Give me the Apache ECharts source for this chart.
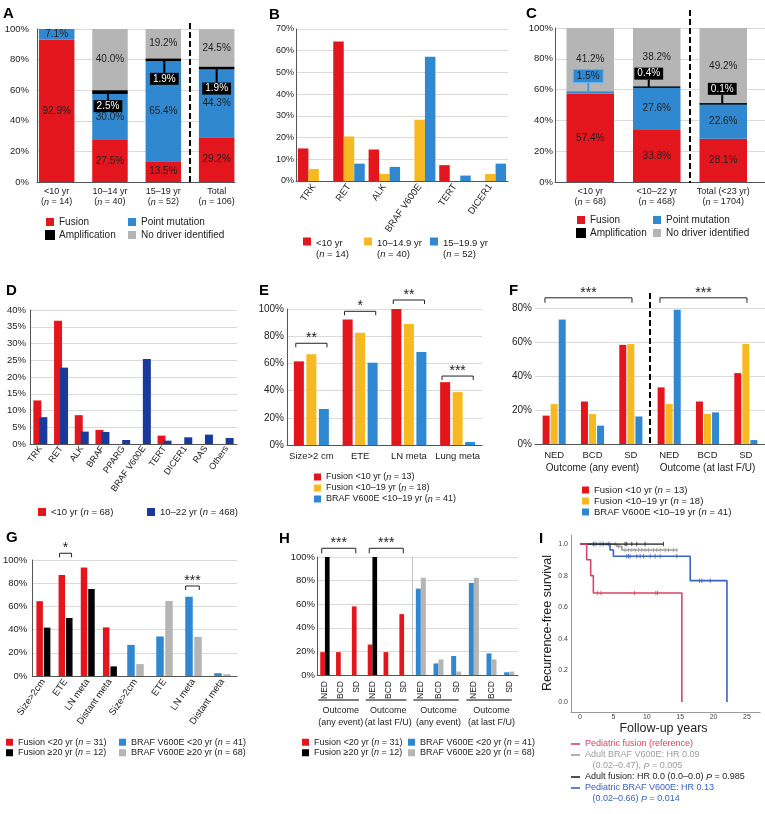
<!DOCTYPE html>
<html><head><meta charset="utf-8">
<script src="https://cdn.jsdelivr.net/npm/echarts@6/dist/echarts.min.js"></script>
<style>html,body{margin:0;padding:0;background:#fff}#main{width:765px;height:814px}</style>
</head><body><div id="main"></div>
<script>
// ================= DATA =================
// Panel A
const aCategories = ['<10 yr\n(n = 14)', '10–14 yr\n(n = 40)', '15–19 yr\n(n = 52)', 'Total\n(n = 106)'];
const aFusion = [92.9, 27.5, 13.5, 29.2];
const aPoint = [7.1, 30.0, 65.4, 44.3];
const aAmp = [0, 2.5, 1.9, 1.9];
const aNone = [0, 40.0, 19.2, 24.5];
// Panel B
const bCategories = ['TRK', 'RET', 'ALK', 'BRAF V600E', 'TERT', 'DICER1'];
const bUnder10 = [15.0, 64.3, 14.5, 0, 7.3, 0];
const b10to15 = [5.5, 20.5, 3.2, 28.2, 0, 3.2];
const b15to20 = [0, 8.0, 6.5, 57.2, 2.5, 8.0];
// Panel C
const cCategories = ['<10 yr\n(n = 68)', '<10–22 yr\n(n = 468)', 'Total (<23 yr)\n(n = 1704)'];
const cFusion = [57.4, 33.8, 28.1];
const cPoint = [1.5, 27.6, 22.6];
const cAmp = [0, 0.4, 0.1];
const cNone = [41.2, 38.2, 49.2];
// Panel D
const dCategories = ['TRK', 'RET', 'ALK', 'BRAF', 'PPARG', 'BRAF V600E', 'TERT', 'DICER1', 'RAS', 'Others'];
const dUnder10 = [13.0, 36.8, 8.6, 4.2, 0, 0, 2.5, 0, 0, 0];
const d10to22 = [8.0, 22.8, 3.7, 3.6, 1.2, 25.4, 1.0, 2.0, 2.8, 1.8];
// Panel E
const eCategories = ['Size>2 cm', 'ETE', 'LN meta', 'Lung meta'];
const eFusionU10 = [61.5, 92.3, 100, 46.2];
const eFusion10to19 = [66.7, 82.5, 88.9, 38.9];
const eBraf = [26.5, 60.5, 68.3, 2.2];
const eSigFrom = [0, 1, 2, 3];
const eSigTo = [0, 1, 2, 3];
const eSigLevel = [74.8, 98.3, 106.6, 50.7];
const eSigStars = ['**', '*', '**', '***'];
// Panel F
const fCategories = ['NED', 'BCD', 'SD', 'NED', 'BCD', 'SD'];
const fGroups = ['Outcome (any event)', 'Outcome (at last F/U)'];
const fFusionU10 = [16.7, 25.0, 58.3, 33.3, 25.0, 41.7];
const fFusion10to19 = [23.5, 17.6, 58.8, 23.5, 17.6, 58.8];
const fBraf = [73.2, 10.8, 16.2, 78.9, 18.6, 2.3];
const fSigFrom = [0, 3];
const fSigTo = [2, 5];
const fSigLevel = [86, 86];
const fSigStars = ['***', '***'];
// Panel G
const gCategories = ['Size>2cm', 'ETE', 'LN meta', 'Distant meta'];
const gFusionU20 = [64.5, 87.1, 93.5, 41.9];
const gFusionO20 = [41.7, 50.0, 75.0, 8.3];
const gBrafU20 = [26.8, 34.1, 68.3, 2.4];
const gBrafO20 = [10.3, 64.7, 33.8, 1.5];
const gSigFusionCat = [1], gSigFusionLevel = [105.8], gSigFusionStars = ['*'];
const gSigBrafCat = [2], gSigBrafLevel = [77.6], gSigBrafStars = ['***'];
// Panel H
const hCategories = ['NED', 'BCD', 'SD', 'NED', 'BCD', 'SD'];
const hGroups = ['Outcome\n(any event)', 'Outcome\n(at last F/U)'];
const hFusionU20 = [19.4, 19.4, 58.1, 25.8, 19.4, 51.6];
const hFusionO20 = [100, 0, 0, 100, 0, 0];
const hBrafU20 = [73.2, 9.8, 16.1, 78.0, 18.3, 2.3];
const hBrafO20 = [82.4, 13.2, 2.9, 82.4, 13.2, 2.9];
const hSigFrom = [0, 3], hSigTo = [2, 5], hSigLevel = [107.4, 107.4], hSigStars = ['***', '***'];
const hGroupFrom = [0, 3], hGroupTo = [2, 5];
// Panel I (Kaplan–Meier)
const kmPedFusionT = [0, 1.0, 1.6, 2.0, 15.25];
const kmPedFusionS = [1, 0.9, 0.8, 0.69, 0];
const kmPedFusionCens = [2.65, 3.15, 8.15, 11.35, 11.6];
const kmAdultBrafT = [0, 5.5, 6.25, 14.6];
const kmAdultBrafS = [1, 0.985, 0.962, 0.962];
const kmAdultBrafCens = [2.0, 2.5, 3.25, 4.0, 4.5, 5.25, 5.75, 6.75, 7.25, 7.75, 8.25, 8.75, 9.25, 9.75, 10.25, 11.0, 11.5, 12.0, 12.75, 13.25, 14.0, 14.5];
const kmAdultFusionT = [0, 12.5];
const kmAdultFusionS = [1, 1];
const kmAdultFusionCens = [6.75, 7.0, 7.75, 8.5, 9.75, 12.5];
const kmPedBrafT = [0, 4.5, 5.0, 16.5, 22.0];
const kmPedBrafS = [1, 0.962, 0.922, 0.768, 0];
const kmPedBrafCens = [2.0, 2.25, 3.0, 3.5, 4.25, 7.0, 7.25, 7.5, 8.5, 9.0, 9.5, 10.5, 11.25, 12.0, 14.5, 17.9, 18.25, 19.5];
const kmNames = ['Pediatric fusion (reference)', 'Adult BRAF V600E: HR 0.09', '   (0.02–0.47), P = 0.005',
  'Adult fusion: HR 0.0 (0.0–0.0) P = 0.985', 'Pediatric BRAF V600E: HR 0.13', '   (0.02–0.66) P = 0.014'];

// ================= STYLE / HELPERS =================
const FONT = "'Liberation Sans', Arial, Helvetica, sans-serif";
const RED = '#e3161e', BLUE = '#3089d0', YEL = '#f6b921', GRY = '#b5b5b5', NAVY = '#1a3a9a', BLK = '#000';
const KM_RED = '#d8436a', KM_GRY = '#9c9c9c', KM_BLK = '#222', KM_BLU = '#3b62bd';
const TXT = '#222', AX = '#555', GRIDC = '#dadada';
const grid = [], xAxis = [], yAxis = [], series = [], legend = [], title = [];

function merge(t, s) {
  for (const k in s) {
    const v = s[k];
    if (v && typeof v === 'object' && !Array.isArray(v) && t[k] && typeof t[k] === 'object' && !Array.isArray(t[k])) merge(t[k], v);
    else t[k] = v;
  }
  return t;
}
function addGrid(left, top, width, height) { grid.push({ left, top, width, height }); return grid.length - 1; }
function addX(o) { xAxis.push(o); return xAxis.length - 1; }
function addY(o) { yAxis.push(o); return yAxis.length - 1; }
const italRich = (fs, color) => ({ i: { fontStyle: 'italic', fontFamily: FONT, fontSize: fs, color: color || TXT } });
const nItal = s => String(s).replace(/\(n =/g, '({i|n} =');

function pctY(g, max, interval, o) {
  return addY(merge({
    type: 'value', gridIndex: g, min: 0, max, interval,
    axisLine: { show: true, lineStyle: { color: AX, width: 1 } }, axisTick: { show: false },
    axisLabel: { formatter: '{value}%', fontFamily: FONT, fontSize: 9.5, color: TXT, margin: 3 },
    splitLine: { show: true, lineStyle: { color: GRIDC, width: 1 } }
  }, o || {}));
}
function plainY(g, max, interval, o) {
  return addY(merge({
    type: 'value', gridIndex: g, min: 0, max, interval,
    axisLine: { show: false }, axisTick: { show: false }, axisLabel: { show: false },
    splitLine: { show: true, lineStyle: { color: GRIDC, width: 1 } }
  }, o || {}));
}
function hiddenY(g, max) { return addY({ type: 'value', gridIndex: g, min: 0, max, show: false }); }
function catX(g, data, o) {
  return addX(merge({
    type: 'category', gridIndex: g, data,
    axisLine: { show: true, lineStyle: { color: AX, width: 1 } }, axisTick: { show: false },
    axisLabel: { fontFamily: FONT, fontSize: 9.5, color: TXT, interval: 0, margin: 4 }
  }, o || {}));
}
function frameX(g, color) {
  return addX({ type: 'value', gridIndex: g, min: 0, max: 1, axisLine: { show: true, lineStyle: { color: color || AX } },
    axisLabel: { show: false }, axisTick: { show: false }, splitLine: { show: false } });
}
function bar(name, data, color, xi, yi, o) {
  series.push(merge({ type: 'bar', name, data, xAxisIndex: xi, yAxisIndex: yi, itemStyle: { color }, emphasis: { disabled: true } }, o || {}));
}
function bracketSeries(xi, yi, from, to, level, stars, fl, fr, tick, fs) {
  series.push({
    type: 'custom', xAxisIndex: xi, yAxisIndex: yi, clip: false, silent: true, z: 6,
    data: level.map((v, i) => [from[i], to[i], v]), encode: { x: [0, 1], y: 2 },
    renderItem(params, api) {
      const band = api.size([1, 0])[0];
      const a = api.coord([api.value(0), api.value(2)]);
      const b = api.coord([api.value(1), api.value(2)]);
      const x1 = a[0] - band * fl, x2 = b[0] + band * fr, y = a[1];
      return { type: 'group', children: [
        { type: 'polyline', shape: { points: [[x1, y + tick], [x1, y], [x2, y], [x2, y + tick]] }, style: { stroke: '#222', lineWidth: 1, fill: null } },
        { type: 'text', style: { text: stars[params.dataIndex], x: (x1 + x2) / 2, y: y + 2, align: 'center', verticalAlign: 'bottom', fontSize: fs, fontFamily: FONT, fill: '#222' } }
      ] };
    }
  });
}
function dividerSeries(xi, yi, afterIdx, topVal, extTop, extBot) {
  series.push({
    type: 'custom', xAxisIndex: xi, yAxisIndex: yi, clip: false, silent: true, z: 6,
    data: [[afterIdx, 0]], encode: { x: 0, y: 1 },
    renderItem(params, api) {
      const band = api.size([1, 0])[0];
      const p0 = api.coord([api.value(0), 0]);
      const pt = api.coord([api.value(0), topVal]);
      const x = p0[0] + band / 2;
      return { type: 'line', shape: { x1: x, y1: pt[1] - extTop, x2: x, y2: p0[1] + extBot }, style: { stroke: '#000', lineWidth: 2, lineDash: [6, 3] } };
    }
  });
}
function underlineSeries(xi, yi, from, to, drop, fl, fr) {
  series.push({
    type: 'custom', xAxisIndex: xi, yAxisIndex: yi, clip: false, silent: true, z: 6,
    data: from.map((v, i) => [v, to[i], 0]), encode: { x: [0, 1], y: 2 },
    renderItem(params, api) {
      const band = api.size([1, 0])[0];
      const a = api.coord([api.value(0), 0]), b = api.coord([api.value(1), 0]);
      return { type: 'line', shape: { x1: a[0] - band * fl, y1: a[1] + drop, x2: b[0] + band * fr, y2: a[1] + drop }, style: { stroke: '#000', lineWidth: 1.2 } };
    }
  });
}
function legendAt(names, left, top, o) {
  const fs = (o && o.fs) || 10;
  const lh = (o && o.lh) || 12;
  const L = {
    data: names, left, top, orient: 'vertical', padding: 0, itemGap: 0, itemWidth: 8, itemHeight: 8,
    icon: 'rect', selectedMode: false, formatter: nItal,
    textStyle: { fontFamily: FONT, fontSize: fs, color: TXT, lineHeight: lh, rich: italRich(fs) }
  };
  if (o) { const c = Object.assign({}, o); delete c.fs; delete c.lh; merge(L, c); }
  legend.push(L);
}
const pctLabel = { show: true, position: 'inside', formatter: p => Number(p.value).toFixed(1) + '%', fontFamily: FONT, fontSize: 10, color: TXT };
const segData = (arr, extra) => arr.map((v, i) => v > 0 ? merge({ value: v }, extra ? extra(i) : {}) : '-');

// ================= TITLES =================
[['A', 3, 6], ['B', 269, 7], ['C', 526, 6], ['D', 6, 283], ['E', 259, 283], ['F', 509, 283], ['G', 6, 530], ['H', 279, 531], ['I', 539, 531]]
  .forEach(t => title.push({ text: t[0], left: t[1], top: t[2], padding: 0, textStyle: { fontFamily: FONT, fontSize: 15, fontWeight: 'bold', color: '#000' } }));

// ================= PANEL A =================
const gAf = addGrid(37, 29, 198, 153);
frameX(gAf); pctY(gAf, 100, 20, { axisLabel: { margin: 8 } });
const gA = addGrid(30, 29, 213.3, 153);
const xA = catX(gA, aCategories, { axisLine: { show: false }, axisLabel: { formatter: nItal, rich: italRich(9), fontSize: 9, lineHeight: 10, margin: 5 } });
const yA = hiddenY(gA, 100);
const aAmpOff = [[0, 0], [-2, 14], [1, 19], [0, 20.5]];
bar('Fusion', segData(aFusion), RED, xA, yA, { stack: 'A', barWidth: 35.5, label: pctLabel });
bar('Point mutation', segData(aPoint), BLUE, xA, yA, { stack: 'A', barWidth: 35.5, label: pctLabel });
bar('Amplification', segData(aAmp, () => ({ labelLine: { show: true } })), BLK, xA, yA, {
  stack: 'A', barWidth: 35.5, itemStyle: { borderColor: '#000', borderWidth: 2 },
  label: { show: true, position: 'inside', formatter: p => p.value.toFixed(1) + '%', backgroundColor: '#000', color: '#fff', padding: [1, 3], fontFamily: FONT, fontSize: 10 },
  labelLine: { show: true, lineStyle: { color: '#000', width: 2 } },
  labelLayout: p => ({ dx: aAmpOff[p.dataIndex][0], dy: aAmpOff[p.dataIndex][1] }), z: 4
});
bar('No driver identified', segData(aNone), GRY, xA, yA, { stack: 'A', barWidth: 35.5, label: pctLabel });
dividerSeries(xA, yA, 2, 100, 6, 1);
legendAt(['Fusion', 'Amplification'], 45, 216, { itemGap: 1 });
legendAt(['Point mutation', 'No driver identified'], 128, 216, { itemGap: 1 });

// ================= PANEL B =================
const gB = addGrid(296, 29, 212, 152);
const xB = catX(gB, bCategories, { axisLabel: { rotate: 55, fontSize: 9.5, margin: 4 } });
const yB = pctY(gB, 70, 10, { axisLabel: { fontSize: 9, margin: 2 } });
const bNames = ['<10 yr\n(n = 14)', '10–14.9 yr\n(n = 40)', '15–19.9 yr\n(n = 52)'];
bar(bNames[0], bUnder10, RED, xB, yB, { barWidth: 10.5, barGap: '0%' });
bar(bNames[1], b10to15, YEL, xB, yB, { barWidth: 10.5, barGap: '0%' });
bar(bNames[2], b15to20, BLUE, xB, yB, { barWidth: 10.5, barGap: '0%' });
const twoLineIcon = 'path://M0,0H8V8H0ZM0,22H0.001V22.001H0Z';
[[0, 303], [1, 364], [2, 430]].forEach(([i, l]) =>
  legendAt([bNames[i]], l, 237.5, { icon: twoLineIcon, itemWidth: 8, itemHeight: 22, fs: 9.5, lh: 11 }));

// ================= PANEL C =================
const gCf = addGrid(555, 28, 210, 154);
frameX(gCf); pctY(gCf, 100, 20, { axisLabel: { margin: 2 } });
const gC = addGrid(557, 28, 199.5, 154);
const xC = catX(gC, cCategories, { axisLine: { show: false }, axisLabel: { formatter: nItal, rich: italRich(9), fontSize: 9, lineHeight: 10, margin: 5 } });
const yC = hiddenY(gC, 100);
const cAmpOff = [[0, 0], [-8, -13.5], [-1, -15]];
bar('Fusion', segData(cFusion), RED, xC, yC, { stack: 'C', barWidth: 47.5, label: pctLabel });
bar('Point mutation', segData(cPoint, i => i === 0 ? {
  label: { backgroundColor: BLUE, borderColor: '#5fb3ee', borderWidth: 1, padding: [1, 3] }, labelLine: { show: true }
} : {}), BLUE, xC, yC, {
  stack: 'C', barWidth: 47.5, label: pctLabel,
  labelLine: { show: false, lineStyle: { color: '#39a0e8', width: 2 } },
  labelLayout: p => p.dataIndex === 0 ? { dx: -2, dy: -16.5 } : {}, z: 4
});
bar('Amplification', segData(cAmp, () => ({ labelLine: { show: true } })), BLK, xC, yC, {
  stack: 'C', barWidth: 47.5, itemStyle: { borderColor: '#000', borderWidth: 1 },
  label: { show: true, position: 'inside', formatter: p => p.value.toFixed(1) + '%', backgroundColor: '#000', color: '#fff', padding: [1, 3], fontFamily: FONT, fontSize: 10 },
  labelLine: { show: true, lineStyle: { color: '#000', width: 2 } },
  labelLayout: p => ({ dx: cAmpOff[p.dataIndex][0], dy: cAmpOff[p.dataIndex][1] }), z: 4
});
bar('No driver identified', segData(cNone), GRY, xC, yC, { stack: 'C', barWidth: 47.5, label: pctLabel });
dividerSeries(xC, yC, 1, 100, 18, 1);
legendAt(['Fusion', 'Amplification'], 576, 214, { itemGap: 1 });
legendAt(['Point mutation', 'No driver identified'], 653, 214, { itemGap: 1 });

// ================= PANEL D =================
const gD = addGrid(30, 310, 207, 134);
const xD = catX(gD, dCategories, { axisLabel: { rotate: 55, fontSize: 9, margin: 3 } });
const yD = pctY(gD, 40, 5, { axisLabel: { margin: 4 } });
bar('<10 yr (n = 68)', dUnder10, RED, xD, yD, { barWidth: 8, barGap: '-25%' });
bar('10–22 yr (n = 468)', d10to22, NAVY, xD, yD, { barWidth: 8, barGap: '-25%' });
legendAt(['<10 yr (n = 68)'], 38, 506, { fs: 9.5 });
legendAt(['10–22 yr (n = 468)'], 147, 506, { fs: 9.5 });

// ================= PANEL E =================
const gE = addGrid(287, 309, 195, 136);
const xE = catX(gE, eCategories, { axisLabel: { fontSize: 9.5, margin: 6 } });
const yE = pctY(gE, 100, 20, { axisLabel: { fontSize: 10 } });
const eNames = ['Fusion <10 yr (n = 13)', 'Fusion <10–19 yr (n = 18)', 'BRAF V600E <10–19 yr (n = 41)'];
bar(eNames[0], eFusionU10, RED, xE, yE, { barWidth: 10, barGap: '25%' });
bar(eNames[1], eFusion10to19, YEL, xE, yE, { barWidth: 10, barGap: '25%' });
bar(eNames[2], eBraf, BLUE, xE, yE, { barWidth: 10, barGap: '25%' });
bracketSeries(xE, yE, eSigFrom, eSigTo, eSigLevel, eSigStars, 0.32, 0.32, 4, 14);
legendAt(eNames, 314, 471.5, { fs: 9, lh: 11, itemWidth: 7, itemHeight: 7 });

// ================= PANEL F =================
const gF = addGrid(535, 308, 230, 136);
const xF = catX(gF, fCategories, { axisLabel: { fontSize: 9.5, margin: 6 } });
addX({ type: 'category', gridIndex: gF, data: fGroups, position: 'bottom', offset: 17, axisLine: { show: false }, axisTick: { show: false },
  axisLabel: { fontFamily: FONT, fontSize: 10, color: TXT, margin: 2, interval: 0 } });
const yF = pctY(gF, 80, 20, { axisLine: { show: false }, axisLabel: { fontSize: 10 } });
bar(eNames[0], fFusionU10, RED, xF, yF, { barWidth: 7, barGap: '15%' });
bar(eNames[1], fFusion10to19, YEL, xF, yF, { barWidth: 7, barGap: '15%' });
bar(eNames[2], fBraf, BLUE, xF, yF, { barWidth: 7, barGap: '15%' });
dividerSeries(xF, yF, 2, 80, 15, 0);
bracketSeries(xF, yF, fSigFrom, fSigTo, fSigLevel, fSigStars, 0.24, 0.03, 5, 14);
legendAt(eNames, 582, 484.5, { fs: 9.5, lh: 11, itemWidth: 7, itemHeight: 7 });

// ================= PANEL G =================
const gNames = ['Fusion <20 yr (n = 31)', 'Fusion ≥20 yr (n = 12)', 'BRAF V600E <20 yr (n = 41)', 'BRAF V600E ≥20 yr (n = 68)'];
const gG1 = addGrid(31, 560, 90, 116);
const xG1 = catX(gG1, gCategories, { axisLabel: { rotate: 55, fontSize: 9.5, margin: 4 } });
const yG1 = pctY(gG1, 100, 20, { axisLabel: { margin: 5 } });
const gG2 = addGrid(121, 560, 116, 116);
const xG2 = catX(gG2, gCategories, { axisLabel: { rotate: 55, fontSize: 9.5, margin: 4 } });
const yG2 = plainY(gG2, 100, 20);
bar(gNames[0], gFusionU20, RED, xG1, yG1, { barWidth: 6.5, barGap: '15%' });
bar(gNames[1], gFusionO20, BLK, xG1, yG1, { barWidth: 6.5, barGap: '15%' });
bar(gNames[2], gBrafU20, BLUE, xG2, yG2, { barWidth: 7.5, barGap: '20%' });
bar(gNames[3], gBrafO20, GRY, xG2, yG2, { barWidth: 7.5, barGap: '20%' });
bracketSeries(xG1, yG1, gSigFusionCat, gSigFusionCat, gSigFusionLevel, gSigFusionStars, 0.27, 0.27, 4, 14);
bracketSeries(xG2, yG2, gSigBrafCat, gSigBrafCat, gSigBrafLevel, gSigBrafStars, 0.27, 0.2, 4, 14);
legendAt(gNames.slice(0, 2), 6, 737, { fs: 9, lh: 10.5, itemWidth: 7, itemHeight: 7 });
legendAt(gNames.slice(2), 119, 737, { fs: 9, lh: 10.5, itemWidth: 7, itemHeight: 7 });

// ================= PANEL H =================
const gH1 = addGrid(317, 557, 95, 118);
const xH1 = catX(gH1, hCategories, { axisLabel: { rotate: 90, fontSize: 8.5, margin: 6 } });
addX({ type: 'category', gridIndex: gH1, data: hGroups, position: 'bottom', offset: 28, axisLine: { show: false }, axisTick: { show: false },
  axisLabel: { fontFamily: FONT, fontSize: 9, color: TXT, margin: 2, lineHeight: 12, interval: 0 } });
const yH1 = pctY(gH1, 100, 20, { axisLabel: { margin: 2 } });
const gH2 = addGrid(412, 557, 106, 118);
const xH2 = catX(gH2, hCategories, { axisLabel: { rotate: 90, fontSize: 8.5, margin: 6 } });
addX({ type: 'category', gridIndex: gH2, data: hGroups, position: 'bottom', offset: 28, axisLine: { show: false }, axisTick: { show: false },
  axisLabel: { fontFamily: FONT, fontSize: 9, color: TXT, margin: 2, lineHeight: 12, interval: 0 } });
const yH2 = plainY(gH2, 100, 20, { axisLine: { show: true, lineStyle: { color: '#c4c4c4' } } });
bar(gNames[0], hFusionU20, RED, xH1, yH1, { barWidth: 4.7, barGap: '0%' });
bar(gNames[1], hFusionO20, BLK, xH1, yH1, { barWidth: 4.7, barGap: '0%' });
bar(gNames[2], hBrafU20, BLUE, xH2, yH2, { barWidth: 5, barGap: '0%' });
bar(gNames[3], hBrafO20, GRY, xH2, yH2, { barWidth: 5, barGap: '0%' });
bracketSeries(xH1, yH1, hSigFrom, hSigTo, hSigLevel, hSigStars, 0.2, -0.05, 5, 14);
underlineSeries(xH1, yH1, hGroupFrom, hGroupTo, 25, 0.42, 0.15);
underlineSeries(xH2, yH2, hGroupFrom, hGroupTo, 25, 0.42, 0.15);
legendAt(gNames.slice(0, 2), 302, 737, { fs: 9, lh: 10.5, itemWidth: 7, itemHeight: 7 });
legendAt(gNames.slice(2), 408, 737, { fs: 9, lh: 10.5, itemWidth: 7, itemHeight: 7 });

// ================= PANEL I =================
const gIf = addGrid(571, 535, 189, 177);
frameX(gIf, '#9a9a9a');
addY({ type: 'value', gridIndex: gIf, min: 0, max: 1, axisLine: { show: true, lineStyle: { color: '#9a9a9a' } }, axisLabel: { show: false }, axisTick: { show: false }, splitLine: { show: false } });
const gI = addGrid(580, 544, 167, 158);
const xI = addX({ type: 'value', gridIndex: gI, min: 0, max: 25, interval: 5, axisLine: { show: false }, axisTick: { show: false }, splitLine: { show: false },
  axisLabel: { fontFamily: FONT, fontSize: 7, color: '#444', margin: 12 },
  name: 'Follow-up years', nameLocation: 'middle', nameGap: 19, nameTextStyle: { fontFamily: FONT, fontSize: 12.5, color: TXT } });
const yI = addY({ type: 'value', gridIndex: gI, min: 0, max: 1, interval: 0.2, axisLine: { show: false }, axisTick: { show: false }, splitLine: { show: false },
  axisLabel: { fontFamily: FONT, fontSize: 7, color: '#444', margin: 12, formatter: v => v.toFixed(1) },
  name: 'Recurrence-free survival', nameLocation: 'middle', nameGap: 23, nameTextStyle: { fontFamily: FONT, fontSize: 12.5, color: TXT } });
function survAt(T, S, t) { let s = S[0]; for (let i = 0; i < T.length; i++) if (T[i] <= t) s = S[i]; return s; }
function km(name, T, S, C, color, z) {
  series.push({ type: 'line', name, xAxisIndex: xI, yAxisIndex: yI, data: T.map((t, i) => [t, S[i]]), step: 'end', symbol: 'none',
    lineStyle: { color, width: 1.6 }, itemStyle: { color }, z, emphasis: { disabled: true } });
  series.push({ type: 'scatter', name, xAxisIndex: xI, yAxisIndex: yI, data: C.map(t => [t, survAt(T, S, t)]), symbol: 'rect', symbolSize: [1, 4.5],
    itemStyle: { color }, z, emphasis: { disabled: true } });
}
km(kmNames[1], kmAdultBrafT, kmAdultBrafS, kmAdultBrafCens, KM_GRY, 2);
km(kmNames[4], kmPedBrafT, kmPedBrafS, kmPedBrafCens, KM_BLU, 3);
km(kmNames[3], kmAdultFusionT, kmAdultFusionS, kmAdultFusionCens, KM_BLK, 4);
km(kmNames[0], kmPedFusionT, kmPedFusionS, kmPedFusionCens, KM_RED, 5);
[kmNames[2], kmNames[5]].forEach(n => series.push({ type: 'line', name: n, xAxisIndex: xI, yAxisIndex: yI, data: [],
  lineStyle: { color: 'rgba(0,0,0,0)' }, itemStyle: { color: 'rgba(0,0,0,0)' } }));
const kmCol = [KM_RED, KM_GRY, KM_GRY, KM_BLK, KM_BLU, KM_BLU];
const kmKey = ['r', 'g', 'g', 'k', 'b', 'b'];
legend.push({
  data: kmNames.map((n, i) => ({ name: n, textStyle: { color: kmCol[i] } })),
  left: 571, top: 738.5, orient: 'vertical', padding: 0, itemGap: 0, itemWidth: 9, itemHeight: 1.6, icon: 'rect', selectedMode: false,
  formatter: n => { const k = kmKey[kmNames.indexOf(n)]; return n.replace(/ P = /, ' {' + k + '|P} = '); },
  textStyle: { fontFamily: FONT, fontSize: 9, lineHeight: 11, color: TXT, rich: {
    r: { fontStyle: 'italic', fontFamily: FONT, fontSize: 9, color: KM_RED },
    g: { fontStyle: 'italic', fontFamily: FONT, fontSize: 9, color: KM_GRY },
    k: { fontStyle: 'italic', fontFamily: FONT, fontSize: 9, color: KM_BLK },
    b: { fontStyle: 'italic', fontFamily: FONT, fontSize: 9, color: KM_BLU } } }
});

// ================= RENDER =================
const chart = echarts.init(document.getElementById('main'), null, { renderer: 'canvas' });
chart.setOption({ animation: false, backgroundColor: '#fff', title, grid, xAxis, yAxis, legend, series });
</script></body></html>
